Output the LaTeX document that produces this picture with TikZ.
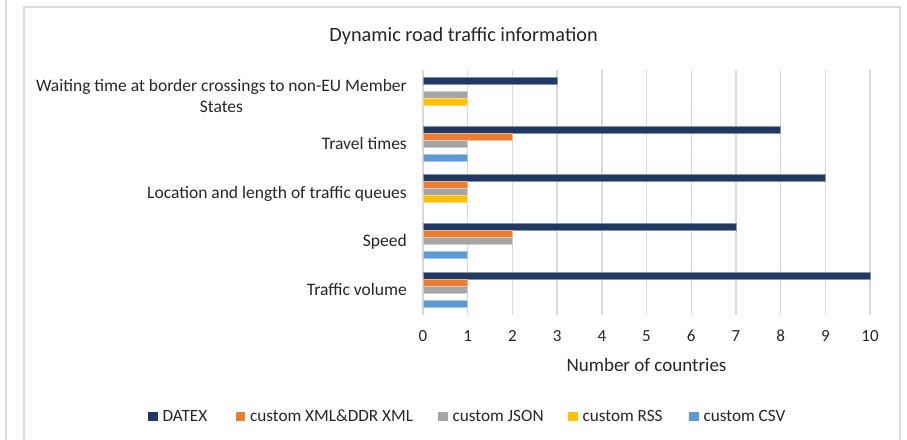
\documentclass[tikz,border=0pt]{standalone}
\usepackage{fontspec}
\setmainfont{Carlito}
\definecolor{datex}{HTML}{203864}
\definecolor{xmlc}{HTML}{ED7D31}
\definecolor{jsonc}{HTML}{A5A5A5}
\definecolor{rssc}{HTML}{FFC000}
\definecolor{csvc}{HTML}{5B9BD5}
\definecolor{gridc}{HTML}{D9D9D9}
\definecolor{txt}{HTML}{262626}
\tikzset{
  frameline/.style={draw=gridc, line width=1.3pt},
  gridline/.style={draw=gridc, line width=1.4pt},
  bar/.style={fill=#1, draw=#1!55!white, line width=0.5pt},
  catlabel/.style={anchor=base east, inner sep=0pt, text=txt, font=\fontsize{17.5}{21}\selectfont},
  ticklabel/.style={anchor=base, inner sep=0pt, text=txt, font=\fontsize{17}{21}\selectfont},
  legsq/.style={fill=#1, draw=none, minimum width=9.5pt, minimum height=9.5pt, inner sep=0pt, anchor=west},
  legtext/.style={anchor=base west, inner sep=0pt, text=txt, font=\fontsize{17.2}{21}\selectfont},
}
\begin{document}
\begin{tikzpicture}[x=1pt, y=-1pt]
\useasboundingbox (0,0) rectangle (907,439);
% frame
\draw[frameline] (6,-2) -- (6,441);
\draw[frameline] (24,441) -- (24,7) -- (900,7) -- (900,441);
% title
\node[inner sep=0pt, text=txt, font=\fontsize{20.3}{24}\selectfont] (title) at (463.5,36) {Dynamic road traffic information};
% gridlines and tick labels
\foreach \k in {0,...,10} {
  \draw[gridline] ({423+44.7*\k},70) -- ({423+44.7*\k},315);
  \node[ticklabel] (t\k) at ({423+44.7*\k},341.5) {\k};
}
\node[anchor=base, inner sep=0pt, text=txt, font=\fontsize{19}{23}\selectfont] (xtitle) at (646.5,371.5) {Number of countries};
% bars
\foreach \i/\a/\b/\c/\d/\e in {0/3/0/1/1/0, 1/8/2/1/0/1, 2/9/1/1/1/0, 3/7/2/2/0/1, 4/10/1/1/0/1} {
  \pgfmathsetmacro\yt{77.3+48.7*\i}
  \foreach \v/\k/\col in {\a/0/datex, \b/1/xmlc, \c/2/jsonc, \d/3/rssc, \e/4/csvc} {
    \ifnum\v>0
      \draw[bar=\col] (423.3,{\yt+7*\k}) rectangle ({423+44.7*\v},{\yt+7*\k+6.9});
    \fi
  }
}
% category labels
\node[catlabel] (wt1) at (407,91.2) {Waiting time at border crossings to non-EU Member};
\node[anchor=base, inner sep=0pt, text=txt, font=\fontsize{17.5}{21}\selectfont] (wt2) at (wt1.base |- 0,112.3) {States};
\node[catlabel] (tt) at (407,149.4) {Travel times};
\node[catlabel] (loc) at (407,198.1) {Location and length of traffic queues};
\node[catlabel] (spd) at (407,246.8) {Speed};
\node[catlabel] (vol) at (407,295.5) {Traffic volume};
% legend
\node[legsq=datex] (s1) at (148,416.5) {};
\node[legtext] (l1) at ([xshift=4.5pt]s1.east |- 0,421.5) {DATEX};
\node[legsq=xmlc] (s2) at (235.5,416.5) {};
\node[legtext] (l2) at ([xshift=4.5pt]s2.east |- 0,421.5) {custom XML\&DDR XML};
\node[legsq=jsonc] (s3) at (438,416.5) {};
\node[legtext] (l3) at ([xshift=4.5pt]s3.east |- 0,421.5) {custom JSON};
\node[legsq=rssc] (s4) at (568,416.5) {};
\node[legtext] (l4) at ([xshift=4.5pt]s4.east |- 0,421.5) {custom RSS};
\node[legsq=csvc] (s5) at (689,416.5) {};
\node[legtext] (l5) at ([xshift=4.5pt]s5.east |- 0,421.5) {custom CSV};
\end{tikzpicture}
\end{document}
